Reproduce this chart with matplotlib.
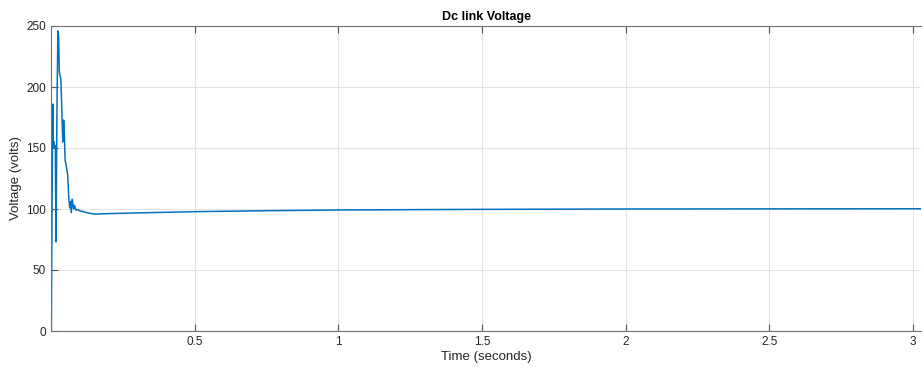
import matplotlib
matplotlib.use("Agg")
import matplotlib.pyplot as plt

plt.rcParams['font.family'] = ['Liberation Sans', 'DejaVu Sans']

# Time (s) and DC link voltage (V)
time_s = [0.0, 0.0004, 0.0010, 0.0025, 0.0050, 0.0067, 0.0085, 0.0105, 0.0125,
          0.0150, 0.0175, 0.0206, 0.0240, 0.0265, 0.0290, 0.0310, 0.0340, 0.0365,
          0.0410, 0.0440, 0.0460, 0.0490, 0.0520, 0.0580, 0.0620, 0.0650, 0.0680,
          0.0706, 0.0740, 0.0760, 0.0790, 0.0820, 0.0870, 0.0940, 0.1000, 0.1100,
          0.1280, 0.1520, 0.2000, 0.3000, 0.5000, 0.7500, 1.0000, 1.5000, 2.0000,
          2.5000, 3.0300]
voltage_v = [0.0, 84.0, 0.0, 60.0, 150.0, 186.0, 150.0, 155.0, 150.0,
             152.0, 73.0, 180.0, 246.0, 240.0, 212.0, 210.0, 207.0, 190.0,
             155.0, 173.0, 165.0, 140.0, 137.0, 128.0, 109.0, 101.0, 106.0,
             97.0, 108.0, 104.0, 100.0, 103.0, 99.0, 99.5, 98.5, 98.0,
             96.8, 95.8, 96.2, 96.8, 97.8, 98.6, 99.2, 99.7, 100.0,
             100.1, 100.2]

x_ticks = [0.5, 1, 1.5, 2, 2.5, 3]
x_tick_labels = ['0.5', '1', '1.5', '2', '2.5', '3']
y_ticks = [0, 50, 100, 150, 200, 250]

W, H = 922, 367
fig = plt.figure(figsize=(W / 100, H / 100), dpi=100)
ax = fig.add_axes([51 / W, (H - 331) / H, 870 / W, 305 / H])

ax.plot(time_s, voltage_v, color='#0072BD', linewidth=1.1)

ax.set_xlim(0, 3.028)
ax.set_ylim(0, 250)
ax.set_xticks(x_ticks)
ax.set_xticklabels(x_tick_labels)
ax.set_yticks(y_ticks)

ax.grid(True, color='#e3e3e3', linewidth=0.8)
ax.set_axisbelow(True)
ax.tick_params(direction='in', length=5, top=True, right=False, colors='#555555',
               labelcolor='#262626', labelsize=8.5, width=0.8)
for side in ['left', 'bottom', 'top']:
    ax.spines[side].set_color('#707070')
    ax.spines[side].set_linewidth(0.8)
ax.spines['right'].set_visible(False)

ax.set_title('Dc link Voltage', fontsize=9, fontweight='bold', color='#000000', pad=4)
ax.set_xlabel('Time (seconds)', fontsize=9.5, color='#262626', labelpad=2)
ax.set_ylabel('Voltage (volts)', fontsize=9.5, color='#262626', labelpad=3)

fig.savefig('out.png', dpi=100)
